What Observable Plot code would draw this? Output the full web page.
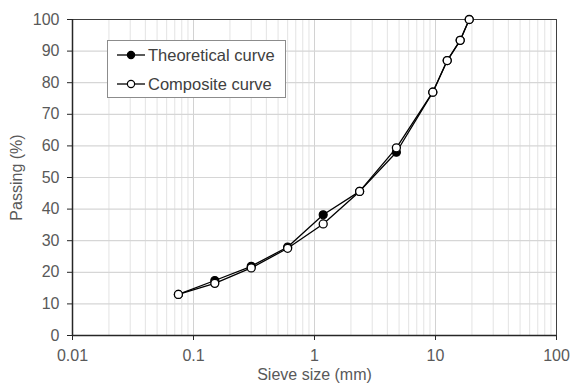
<!DOCTYPE html>
<html>
<head>
<meta charset="utf-8">
<script src="https://cdn.jsdelivr.net/npm/d3@7"></script>
<script src="https://cdn.jsdelivr.net/npm/@observablehq/plot@0.6"></script>
<style>
  html, body { margin: 0; padding: 0; background: #fff; }
  #wrap { position: relative; width: 571px; height: 385px; font-family: "Liberation Sans", Arial, sans-serif; }
  #legend { position: absolute; left: 107px; top: 40px; width: 179px; height: 58px; border: 1px solid #8c8c8c; background: #fff; box-sizing: border-box; }
  .row { position: absolute; left: 9px; height: 20px; display: flex; align-items: center; font-size: 16.5px; color: #404040; }
  .row svg { margin-right: 3px; }
</style>
</head>
<body>
<div id="wrap"></div>
<script>
const sieveSizes = [0.075, 0.15, 0.3, 0.6, 1.18, 2.36, 4.75, 9.5, 12.5, 16, 19];
const theoretical = [13, 17.4, 21.9, 28, 38.2, 45.6, 58, 77, 87, 93.4, 100];
const composite = [13, 16.5, 21.4, 27.6, 35.3, 45.6, 59.4, 77, 87, 93.4, 100];
const seriesNames = ["Theoretical curve", "Composite curve"];
const xTicks = [0.01, 0.1, 1, 10, 100];
const yTicks = [0, 10, 20, 30, 40, 50, 60, 70, 80, 90, 100];

const data = [];
sieveSizes.forEach((s, i) => {
  data.push({series: seriesNames[0], size: s, pass: theoretical[i]});
  data.push({series: seriesNames[1], size: s, pass: composite[i]});
});
const theo = data.filter(d => d.series === seriesNames[0]);
const comp = data.filter(d => d.series === seriesNames[1]);

const minorGrid = [];
for (let k = -2; k <= 1; k++) for (let m = 2; m <= 9; m++) minorGrid.push(m * Math.pow(10, k));

const chart = Plot.plot({
  width: 571,
  height: 385,
  marginLeft: 72,
  marginRight: 15,
  marginTop: 19,
  marginBottom: 50,
  style: {fontFamily: "Liberation Sans, Arial, sans-serif", fontSize: "16px", color: "#595959", background: "#fff"},
  x: {type: "log", domain: [0.01, 100]},
  y: {domain: [0, 100]},
  marks: [
    Plot.gridX(minorGrid, {stroke: "#e3e3e3", strokeOpacity: 1, strokeWidth: 1}),
    Plot.gridX(xTicks, {stroke: "#d2d2d2", strokeOpacity: 1, strokeWidth: 1}),
    Plot.gridY(yTicks, {stroke: "#d6d6d6", strokeOpacity: 1, strokeWidth: 1.2}),
    Plot.frame({stroke: "#404040", strokeWidth: 1}),
    Plot.ruleY([0], {stroke: "#262626", strokeWidth: 1.5}),
    Plot.ruleX([0.01], {stroke: "#262626", strokeWidth: 1.5}),
    Plot.axisX({ticks: xTicks, tickFormat: d => String(d), tickSize: 5, tickPadding: 9, stroke: "#262626",
      label: "Sieve size (mm)", labelAnchor: "center", labelArrow: "none", labelOffset: 44, fontSize: 16}),
    Plot.axisY({ticks: yTicks, tickSize: 5, tickPadding: 8, stroke: "#262626",
      label: "Passing (%)", labelAnchor: "center", labelArrow: "none", labelOffset: 62, fontSize: 16}),
    Plot.line(theo, {x: "size", y: "pass", stroke: "#000", strokeWidth: 1.3}),
    Plot.line(comp, {x: "size", y: "pass", stroke: "#000", strokeWidth: 1.3}),
    Plot.dot(theo, {x: "size", y: "pass", r: 4, fill: "#000", stroke: "#000", strokeWidth: 1.2}),
    Plot.dot(comp, {x: "size", y: "pass", r: 4, fill: "#fff", stroke: "#000", strokeWidth: 1.3})
  ]
});
const wrap = document.getElementById("wrap");
wrap.appendChild(chart);

const legend = document.createElement("div");
legend.id = "legend";
const sym = (filled) => `<svg width="28" height="12"><line x1="0" y1="6" x2="28" y2="6" stroke="#000" stroke-width="1.3"/><circle cx="14" cy="6" r="3.6" fill="${filled ? '#000' : '#fff'}" stroke="#000" stroke-width="1.2"/></svg>`;
legend.innerHTML = `<div class="row" style="top:4px">${sym(true)}<span>${seriesNames[0]}</span></div>` +
  `<div class="row" style="top:33px">${sym(false)}<span>${seriesNames[1]}</span></div>`;
wrap.appendChild(legend);
</script>
</body>
</html>
